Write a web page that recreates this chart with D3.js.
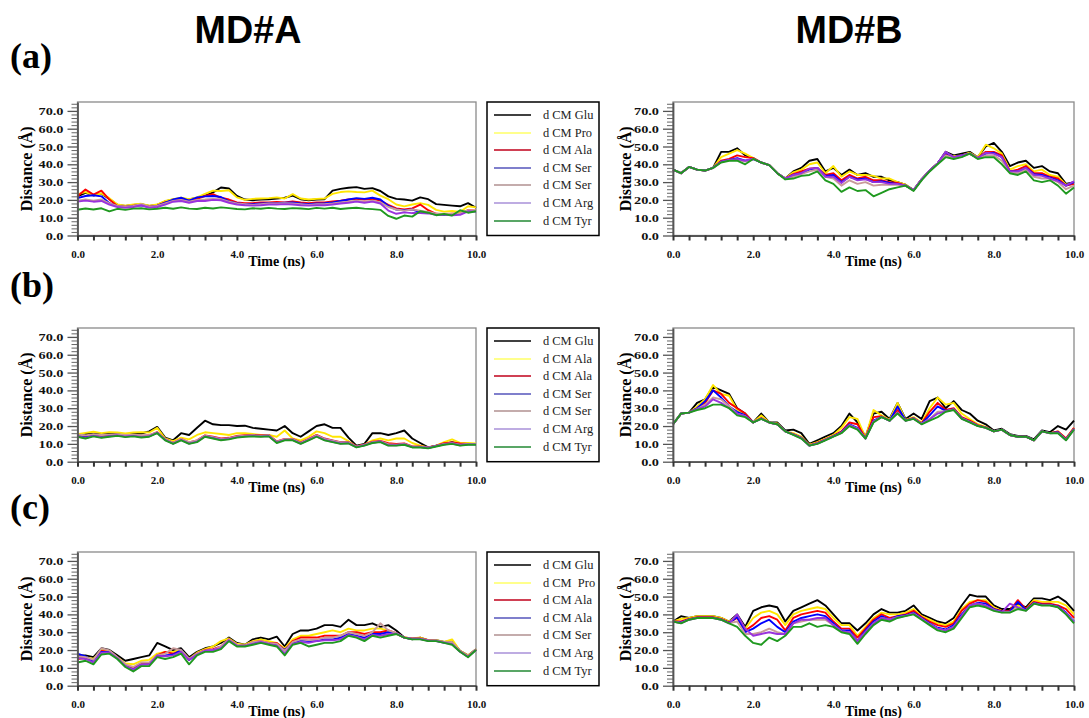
<!DOCTYPE html>
<meta charset="utf-8">
<style>
  body { margin: 0; background: #fff; }
  svg text { font-family: "Liberation Serif", "Times New Roman", serif; }
</style>

<body>
  <script src="https://cdn.jsdelivr.net/npm/d3@7"></script>
  <script>

    // samples every 0.2 ns, 0.0 .. 10.0 ns (51 points per series)
    var yTicks = [0, 10, 20, 30, 40, 50, 60, 70];
    var xTickLabels = [0, 2, 4, 6, 8, 10];
    var columnTitles = ["MD#A", "MD#B"];
    var rowTags = ["(a)", "(b)", "(c)"];

    var legendA = ["d CM Glu", "d CM Pro", "d CM Ala", "d CM Ser", "d CM Ser", "d CM Arg", "d CM Tyr"];
    var legendB = ["d CM Glu", "d CM Ala", "d CM Ala", "d CM Ser", "d CM Ser", "d CM Arg", "d CM Tyr"];
    var legendC = ["d CM Glu", "d CM  Pro", "d CM Ala", "d CM Ala", "d CM Ser", "d CM Arg", "d CM Tyr"];

    // ---- row (a), MD#A
    var aA_glu = [22,24,22.5,23.5,20.5,17.2,16.6,17.2,17.6,16.6,17.2,19.2,20.2,20.8,20.2,21.2,22.4,24.2,27.0,26.4,22.2,20.2,19.8,20.2,20.4,20.8,21.2,22.4,20.4,19.8,20.2,20.4,25.2,26.2,26.8,27.2,26.2,26.6,25.0,22.0,20.6,20.2,19.6,21.4,20.4,17.6,17.2,16.8,16.4,18.2,15.6];
    var aA_pro = [23.2,24.4,22.6,23.6,21.0,17.4,16.8,17.4,17.8,16.8,17.4,19.4,20.4,21.2,20.4,21.4,23.4,25.2,25.0,25.4,21.4,20.0,20.6,20.8,21.0,21.4,20.8,23.2,20.8,20.2,20.6,20.8,23.4,24.4,24.8,24.4,24.2,25.2,22.4,20.4,17.4,16.4,17.4,18.2,17.2,14.4,13.4,13.8,13.2,16.4,15.8];
    var aA_ala = [22.0,25.8,23.0,25.2,20.2,16.6,16.2,16.8,17.2,16.2,16.8,18.6,19.6,20.2,19.6,20.6,22.2,23.2,21.2,20.2,18.6,18.2,18.2,18.6,18.6,18.8,18.6,19.2,18.6,18.2,18.6,18.6,19.2,19.6,20.2,20.6,20.2,20.6,19.6,17.2,15.2,14.6,15.2,17.4,14.2,12.2,11.8,12.2,12.2,14.2,14.0];
    var aA_ser1 = [21.0,22.2,22.6,22.0,18.2,16.4,16.0,16.6,17.0,16.0,16.6,18.4,20.2,21.2,19.6,21.4,22.0,22.2,21.6,19.2,18.2,17.6,17.6,18.0,18.2,18.2,18.4,18.6,18.0,17.6,18.0,18.2,18.6,19.4,20.2,21.0,20.6,21.2,20.2,16.6,14.6,14.2,14.6,13.2,13.0,12.0,11.6,12.0,12.0,13.8,13.6];
    var aA_ser2 = [19.6,20.2,19.6,20.2,18.0,16.6,16.2,16.6,17.6,16.2,16.6,18.0,19.4,20.0,19.0,20.0,20.2,20.6,20.4,19.0,18.0,17.6,17.2,17.6,18.0,18.0,18.2,18.0,17.6,17.2,17.6,17.6,18.0,18.6,19.0,19.6,19.0,19.6,18.6,16.0,14.6,14.0,14.6,14.0,13.2,12.2,12.2,12.2,12.4,14.2,14.0];
    var aA_arg = [19.0,19.6,19.0,19.4,17.4,16.0,15.6,16.0,17.0,15.6,16.0,17.4,19.0,19.4,18.4,19.4,19.4,20.0,19.8,18.4,17.4,17.0,16.8,17.0,17.4,17.4,17.6,17.4,17.0,16.8,17.0,17.0,17.4,18.0,18.4,19.0,18.4,19.0,18.0,14.0,12.2,13.0,12.6,12.6,12.4,11.6,11.6,11.4,11.6,13.6,13.4];
    var aA_tyr = [14.5,15.2,14.6,15.3,13.6,15.0,14.4,15.1,15.3,14.7,15.0,15.6,15.0,15.8,15.1,14.9,15.6,15.2,15.8,15.4,14.9,14.7,15.3,15.0,15.5,15.1,14.9,15.4,15.2,14.8,15.5,15.1,15.6,14.9,15.3,15.6,15.1,14.8,14.4,11.0,9.4,11.2,10.6,13.6,12.8,11.4,12.1,11.2,14.2,12.8,13.6];

    // ---- row (a), MD#B
    var aB_glu = [37,35,38.5,37,36.5,38,47,47,49,45,43.5,41,39.5,35,32,36,38,42,43,36,38,34,37,34,35,33,33,31,30,28.5,25.5,31.5,36.5,40.5,47,45,46,47,44,50,52,47,39,41,42,38,39,36,35,29,30];
    var aB_pro = [37,35,38.5,37,36.5,38,44,46,48,46,43.5,41,39.5,35,32,35.5,37,40,41,35,39,33,36,34,34,33.5,32,32,30,28.5,25.5,31.5,36.5,40.5,46,44.5,45,46.5,44,51,49,46,37,39,40,36,37,34,33,28.5,29];
    var aB_ala = [37,35,38.5,37,36.5,38,42,43,45,44,43.5,41,39.5,35,32,34.5,36,37.5,38,34,35,31,34,32,33,31,31,30,29.5,28,25.5,31.5,36.5,40.5,46,44,45,46,43.5,47,47,45,36,37,39,35,35,33,32,28,29];
    var aB_ser1 = [37,35,38.5,37,36.5,38,41.5,42.5,43.5,42,43,41,39.5,35,32,34,35,37,38,33.5,34,30,33,31.5,32,30,30.5,29.5,29,28,25.5,31.5,36.5,40.5,46.5,44,45,46,43.5,46,46.5,44,36,36,38,34.5,34,32.5,31,28,30];
    var aB_ser2 = [37,35,38.5,37,36.5,38,41.2,42.2,42.5,41.5,43,41,39.5,35,32,33,34.5,36,37,33,32,28,31,29,30,28,28.5,28.5,28.5,28,25.5,31.5,36.5,40.5,45,43.5,44.5,46,43.5,45,45,42,35.5,35,37,33,32,32,30,26,28];
    var aB_arg = [37,35,38.5,37,36.5,38,41.5,42.5,43,42,43,41,39.5,35,32,34,35,37.5,38,33,33,29.5,33,31,31.5,30,30,29,29,28,25.5,31.5,36.5,40.5,47,44,45,46,43.5,46.5,46,44,36,36,38,34,33.5,32,30.5,28,30.5];
    var aB_tyr = [37,35,38.5,37,36.5,38,41,42,42,40,43,41,39.5,35,31.5,32,33.5,34,36,31,29,24.5,27,25,25.5,22,24,26,27,28,25,31,36,40,44,43,44,46,43,44,44,40,35,34,36,31,30,31,28,23.5,27];

    // ---- row (b), MD#A
    var bA_glu = [15,15.5,15.8,15.4,15.6,15.8,15.4,15.6,15.8,17,19.5,13.5,12,16,15,19,23,21,20.5,20.5,20,20.2,19,18.5,18,17.5,20,16,14,17,20,21,19,19,13.5,9,10,16,16,15,16,17.5,13,10.5,8,9,10,11,10,10,10];
    var bA_ala1 = [15.5,16.2,16.8,16,16.6,16.4,15.8,16.4,16.6,16.4,19,13,11.5,13.5,12.5,15,16.5,16,15.5,15,16,16,15.5,15,15,14,17.5,13,12,14,17,16,14,14,11.5,8.5,9.5,12,13,12,13,13,10.5,9,8,9,11,12.5,10.5,10.5,10.2];
    var bA_ala2 = [14.6,14,15,14.2,14.8,15,14.6,15,14.4,14.8,16.6,12.6,10.6,12.8,10.8,12,14.8,14,13,13.4,14.4,14.8,15,14.8,15,11.4,12.8,12.8,10.8,12.8,15,13,12,11,11,8.6,9.6,11.2,11.6,10.4,10,10.2,8.6,8.6,8,9,10.4,10.8,10.2,10,10];
    var bA_ser1 = [14.4,13.6,14.6,13.8,14.4,14.8,14.2,14.6,14,14.4,16.3,12.3,10.3,12.4,10.4,11.6,14.4,13.6,12.6,13,14,14.4,14.6,14.4,14.6,11,12.4,12.4,10.4,12.4,14.6,12.6,11.6,10.6,10.6,8.3,9.3,10.8,11.3,9.6,9.4,9.8,8.3,8.3,7.8,8.8,9.8,10.3,9.4,9.8,9.8];
    var bA_ser2 = [15.2,14.8,15.4,15,15.2,15.4,15,15.2,14.8,15,16.4,12.6,10.6,12.8,11,12,14.6,13.8,12.8,13.2,14.2,14.6,14.8,14.6,14.8,11.2,12.6,12.6,10.6,12.6,14.8,12.8,11.8,10.8,10.8,8.4,9.4,11,11.4,9.8,9.6,10,8.4,8.4,7.9,8.9,10,10.4,9.6,9.9,9.9];
    var bA_arg = [14.3,13.3,14.5,13.7,14.3,14.8,14.1,14.5,13.9,14.3,16.2,12.2,10.2,12.2,10.2,11.3,14.2,13.3,12.3,12.8,13.8,14.2,14.4,14.2,14.4,10.8,12.2,12.2,10.2,12.2,14.2,12.2,11.2,10.2,10.4,8.2,9.2,10.7,11.2,9.2,9.2,9.7,8.2,8.2,7.7,8.7,9.7,10.2,9.2,9.7,9.7];
    var bA_tyr = [14,13,14.2,13.4,14,14.5,13.8,14.2,13.6,14,16,12,10,12,10,11,14,13,12,12.5,13.5,14,14.2,14,14.2,10.5,12,12,10,12,14,12,11,10,10.2,8,9,10.5,11,9,9,9.5,8,8,7.5,8.5,9.5,10,9,9.5,9.5];

    // ---- row (b), MD#B
    var bB_glu = [21,27,27.5,33,35,42,40,38,30,27,22,27,22,22,17.5,18,16,10,12,14,16,20,27,22,14,27,28,24,33,24,27,24,34,36,30,34,29,27,23,21,17.5,18.5,15.5,14.5,14.5,12.5,17.5,16.5,20,18,23];
    var bB_ala1 = [21,27,27.5,31,35,43,38,37,29,26,22,26,22,21.5,17,16,14,9.5,11,13,15,19,25,24,13.5,29,26,23.5,33,23.5,25,22,30,36,32,33,27,24,21,19.5,17,18,15,14,14,12,17,16,17,13,19];
    var bB_ala2 = [21,27,27.5,30,33,40,38,33,30,27,22,24.5,22,21,17,15.5,13.5,9.2,10.5,12.5,14.5,17,22,21,13.2,25,25.5,23,29,23.2,24.5,21.5,28,33,29,30,25,23,20.5,19.2,17,18,15,14,14,12,17,16,17,13,19];
    var bB_ser1 = [21,27,27.5,30,34,40,36,31,28,26,22,24.2,22,21,17,15.3,13.3,9.1,10.3,12.3,14.3,16.5,21,19,13.1,23,25.2,23,31,23.1,24.3,21.3,26,31,28.5,29.5,24.5,22.5,20.2,19.1,17,18,15,14,14,12,17,16,16.5,12.5,18.5];
    var bB_ser2 = [21,27,27.5,29.5,32,36,35,31,27,25.5,22,24.1,22,21,17,15.2,13.2,9,10.2,12.2,14.2,16.2,20.5,18.5,13,22.5,25.1,23,27.5,23,24.2,21.2,24,28,28.3,29.3,24.3,22.3,20.1,19,17,18,15,14,14,12,17,16,16.3,12.3,18.3];
    var bB_arg = [21,27,27.5,29.5,31,35,33,30,27,25.5,22,24.1,22,21,17,15.2,13.2,9,10.2,12.2,14.2,16.2,20.4,18.4,13,22.4,25.1,23,27.4,23,24.2,21.2,23.8,27,28.2,29.2,24.2,22.2,20.1,19,17,18,15,14,14,12,17,16,16.2,12.2,18.2];
    var bB_tyr = [21,27,27.5,29,30,32,32,30,26,25,22,24,22,21,17,15,13,9,10,12,14,16,20,18,13,22,25,23,27,23,24,21,23,25,28,29,24,22,20,19,17,18,15,14,14,12,17,16,16,12,18];

    // ---- row (c), MD#A
    var cA_glu = [17,17,16,21,20,17,14,15,16,17,24,22,20,21,16,19,21,22,24,27,24,23,26,27,26,27.5,22,29,31,31,32,34,34,33,37,34,34,35,33,34,31,27,26,27,25.5,25.5,24.5,25,19.5,17,20.5];
    var cA_pro = [16,16,15,20,19.5,16,12.5,12,14,14.5,18,19,19,20,15,18.5,20.5,22,25,26.5,23.5,23,25,26,25,24,21,26,28,28,29,30,31,30,32,31,31,32,32,31,29,27,26.5,27,25.5,25.5,24.5,26,19.5,17,20.5];
    var cA_ala1 = [15,15.5,14,19.5,19,15.5,11.5,10,12.5,12.5,17,19,18,19.5,14.5,18,20,20.5,22,26,23,22.5,24.5,25,24,24,20,25,27,27,27,28,28,28,30,30,29,30,30,31,29.5,27,26.5,26.5,25.5,25.3,24.3,24,19.3,16.5,20.3];
    var cA_ala2 = [18,16.5,13.5,19,18.8,15.2,11,9,11.8,12,16.8,17,17.5,20,14.5,17.5,19.5,20,21.5,25.5,22.5,22.4,24,24.5,23.5,23,20,24,25.5,25,25,26,26,27,29,28,27,29,29,30,29.3,27,26.3,26.3,25.3,25.2,24.2,23.5,19.2,16.3,20.2];
    var cA_ser = [16.5,16,14.5,21,19.8,16,12,10.5,13,13,17,18,21,20,15,18,19.8,20,22,26,23,22.5,24.5,25,24,23.5,19.5,24.5,26,25.5,26,27,27,28,30,29,28,30,35,31,29.5,27,26.4,26.4,25.4,25.4,24.4,24.5,19.4,16.6,20.4];
    var cA_arg = [15.5,15,13,18.5,18.6,15.4,11,9,11.8,12,16.8,16.5,17,19,14.5,17.5,19.5,20,21,25.5,22.5,22.3,23.5,24.5,23.5,22.5,18,23.5,24.5,24,25,25.5,25.5,26,28.5,27.5,26,28.5,28,29,29.2,27,26.2,26.2,25.2,25.1,24.1,23.3,19.1,16.2,20.1];
    var cA_tyr = [13,14,12,17.5,18,15,10.5,8,11,11,16,15,16,18,12,17,19,19,20.5,25,22,22,23,24,23,22,17,23,24,22,23,24,24,25,28,27,25,28,27,28,29,27,26,26,25,25,24,23,19,16,20];

    // ---- row (c), MD#B
    var cB_glu = [36,39,38,39,39,39,38,36,40,33,42,44,45,44,36,42,44,46,48,45,40,35,35,31,35,40,43,41,41,42,45,40,38,36,35,38,45,51,50,50,45,43,43,46,44,49,49,48,50,47,42];
    var cB_pro = [36,37.5,38,39,39,39,38,36,39,32,38,41,42,40,34,40,42,43,44,43,38,34,34,28,33,38,41,40,40,41,43,39,37,35,34,36,43,47,48,48,44,42,42,45,43,48,47,47,47,45,40];
    var cB_ala1 = [36,36,37.5,38.5,38.5,38.5,37.5,35.5,38,31,34,38,39,37,31,38,40,41,42,41,36,32,32,27,32,37,40,38,39,40,42,38.5,36,34,33,35,42,46,48,47,43,42,42,48,43,47,46,46,45,43,38];
    var cB_ala2 = [36,35.5,37.2,38.2,38.2,38.2,37.2,35.2,38.5,30,32,35,37,33,30,36,38,39,40,39,35,31,31,25,31,36,39,37,39,39.5,41,38,35,32.5,31.5,34,40,45,46.5,46,43,41.5,41.5,47,42.5,46.5,45.5,45.5,44.5,41,36];
    var cB_ser = [36,35.2,37.1,38.1,38.1,38.1,37.1,35.1,36,29,29,30,32,30,29,35,36,37,37,37,34,30.5,30,25,30,35,38,37,38.5,39.2,40.5,37.5,34.5,32,31,33,39,45,46,45,42.5,41.2,41.2,44,42.2,46.2,45.2,45.2,44.2,40.5,35.5];
    var cB_arg = [36,35.1,37,38,38,38,37,35,40,32,28,29,30,29,29,35,37,37,38,38,34,30.5,30,25,30,35,38,37,38.5,39.2,40.5,37.5,34.5,32,31,33,39,45,46,45,42.5,41.3,46,44,42.2,46.2,45.2,45.2,44.2,40.5,35.5];
    var cB_tyr = [36,35,37,38,38,38,37,35,33,28,24,23,27,25,28,33,33,35,33,34,33,30,29,23.5,29,34,37,36,38,39,40,37,34,31,30,32,38,44,45,44,42,41,41,43,42,46,45,45,44,40,35];

    // line colours (plot) and legend swatch colours, in draw order
    var lineColors = ["#000000", "#ffe600", "#ff0000", "#0000ff", "#c89a9a", "#9933dd", "#1f991f"];
    var swatchColors = ["#000000", "#ffff66", "#c0001a", "#5555bb", "#b09090", "#a890d8", "#228833"];

    var panels = [
      { row: 0, col: 0, legend: legendA, series: [aA_glu, aA_pro, aA_ala, aA_ser1, aA_ser2, aA_arg, aA_tyr] },
      { row: 0, col: 1, series: [aB_glu, aB_pro, aB_ala, aB_ser1, aB_ser2, aB_arg, aB_tyr] },
      { row: 1, col: 0, legend: legendB, series: [bA_glu, bA_ala1, bA_ala2, bA_ser1, bA_ser2, bA_arg, bA_tyr] },
      { row: 1, col: 1, series: [bB_glu, bB_ala1, bB_ala2, bB_ser1, bB_ser2, bB_arg, bB_tyr] },
      { row: 2, col: 0, legend: legendC, series: [cA_glu, cA_pro, cA_ala1, cA_ala2, cA_ser, cA_arg, cA_tyr] },
      { row: 2, col: 1, series: [cB_glu, cB_pro, cB_ala1, cB_ala2, cB_ser, cB_arg, cB_tyr] }
    ];

    var cols = [
      { x0: 77.5, x1: 476, labX: 26, titleX: 248 },
      { x0: 673, x1: 1074, labX: 624.5, titleX: 849 }
    ];
    var rows = [
      { top: 102, bottom: 235.5, tagY: 68 },
      { top: 328, bottom: 461.7, tagY: 297 },
      { top: 552, bottom: 685.7, tagY: 519 }
    ];

    var svg = d3.select("body").append("svg")
      .attr("width", 1089)
      .attr("height", 718);

    svg.append("rect").attr("width", 1089).attr("height", 718).attr("fill", "#fff");

    // widen text like the (horizontally stretched) source figure
    function stretch(sel, k) {
      sel.each(function () {
        var w = this.getComputedTextLength();
        d3.select(this).attr("textLength", w * k).attr("lengthAdjust", "spacingAndGlyphs");
      });
    }

    // column titles
    svg.selectAll(".title")
      .data(columnTitles)
      .enter().append("text")
      .attr("x", function (d, i) { return cols[i].titleX; })
      .attr("y", 43)
      .attr("text-anchor", "middle")
      .style("font-family", "'Liberation Sans Narrow', 'Liberation Sans', Arial, sans-serif")
      .style("font-weight", "bold")
      .style("font-size", "38px")
      .attr("textLength", 107)
      .attr("lengthAdjust", "spacingAndGlyphs")
      .text(function (d) { return d; });

    // row tags
    svg.selectAll(".tag")
      .data(rowTags)
      .enter().append("text")
      .attr("x", 10)
      .attr("y", function (d, i) { return rows[i].tagY; })
      .style("font-weight", "bold")
      .style("font-size", "36px")
      .text(function (d) { return d; });

    panels.forEach(function (p) {
      var c = cols[p.col], r = rows[p.row];

      var x = d3.scaleLinear().domain([0, 10]).range([c.x0, c.x1]);
      var y = d3.scaleLinear().domain([0, 75]).range([r.bottom, r.top]);

      var g = svg.append("g");

      // plot frame
      g.append("rect")
        .attr("x", c.x0).attr("y", r.top)
        .attr("width", c.x1 - c.x0).attr("height", r.bottom - r.top)
        .attr("fill", "none")
        .attr("stroke", "#8a8a8a")
        .attr("stroke-width", 1.3);

      // series
      var line = d3.line()
        .x(function (d, i, arr) { return x(i * 10 / (arr.length - 1)); })
        .y(function (d) { return y(d); });

      g.selectAll(".series")
        .data(p.series)
        .enter().append("path")
        .attr("fill", "none")
        .attr("stroke", function (d, i) { return lineColors[i]; })
        .attr("stroke-width", 1.9)
        .attr("stroke-linejoin", "round")
        .attr("d", function (d) { return line(d); });

      // y minor ticks
      g.append("g")
        .attr("transform", "translate(" + c.x0 + ",0)")
        .call(d3.axisLeft(y)
          .tickValues(d3.range(0, 75, 2).filter(function (v) { return v % 10 !== 0; }))
          .tickSize(6).tickSizeOuter(0).tickFormat(""))
        .call(function (a) {
          a.select(".domain").remove();
          a.selectAll("line").attr("stroke", "#666").attr("stroke-width", 1);
        });

      // y major ticks + labels
      var ya = g.append("g")
        .attr("transform", "translate(" + c.x0 + ",0)")
        .call(d3.axisLeft(y)
          .tickValues(yTicks)
          .tickSize(10).tickSizeOuter(0).tickPadding(4)
          .tickFormat(d3.format(".1f")));
      ya.select(".domain").attr("stroke", "#555").attr("stroke-width", 1.8);
      ya.selectAll("line").attr("stroke", "#555").attr("stroke-width", 1.3);
      ya.selectAll("text")
        .style("font-family", "'Liberation Serif', serif")
        .style("font-weight", "bold")
        .style("font-size", "11px")
        .attr("fill", "#111")
        .call(stretch, 1.3);

      // x ticks every 0.4 ns, labels every 2 ns
      var xa = g.append("g")
        .attr("transform", "translate(0," + r.bottom + ")")
        .call(d3.axisBottom(x)
          .tickValues(d3.range(26).map(function (i) { return i * 0.4; }))
          .tickSize(5).tickSizeOuter(0).tickPadding(10)
          .tickFormat(function (d) {
            var k = Math.round(d * 10) / 10;
            return xTickLabels.indexOf(k) >= 0 ? k.toFixed(1) : "";
          }));
      xa.select(".domain").attr("stroke", "#555").attr("stroke-width", 1.8);
      xa.selectAll("line").attr("stroke", "#333").attr("stroke-width", 2);
      xa.selectAll("text")
        .style("font-family", "'Liberation Serif', serif")
        .style("font-weight", "bold")
        .style("font-size", "11px")
        .attr("fill", "#111");

      // axis titles
      g.append("text")
        .attr("x", (x(4) + x(6)) / 2)
        .attr("y", r.bottom + 30.5)
        .attr("text-anchor", "middle")
        .style("font-weight", "bold")
        .style("font-size", "14px")
        .text("Time (ns)");

      g.append("text")
        .attr("transform", "translate(" + (c.labX + 6) + "," + ((r.top + r.bottom) / 2) + ") rotate(-90)")
        .attr("text-anchor", "middle")
        .style("font-weight", "bold")
        .style("font-size", "16px")
        .text("Distance (Å)");

      // legend
      if (p.legend) {
        var lx = 487, lw = 112;
        var lg = g.append("g");
        lg.append("rect")
          .attr("x", lx).attr("y", r.top)
          .attr("width", lw).attr("height", r.bottom - r.top)
          .attr("fill", "#fff")
          .attr("stroke", "#000")
          .attr("stroke-width", 1.5);
        var offs = [13, 31, 48, 66, 83, 101, 119];
        var item = lg.selectAll(".item")
          .data(p.legend)
          .enter().append("g")
          .attr("transform", function (d, i) { return "translate(0," + (r.top + offs[i]) + ")"; });
        item.append("line")
          .attr("x1", lx + 7).attr("x2", lx + 44)
          .attr("stroke", function (d, i) { return swatchColors[i]; })
          .attr("stroke-width", 1.6);
        item.append("text")
          .attr("x", lx + 56)
          .attr("dy", "0.35em")
          .style("font-size", "11.5px")
          .attr("fill", "#222")
          .style("white-space", "pre")
          .text(function (d) { return d; })
          .call(stretch, 1.08);
      }
    });

  </script>
</body>

</html>
